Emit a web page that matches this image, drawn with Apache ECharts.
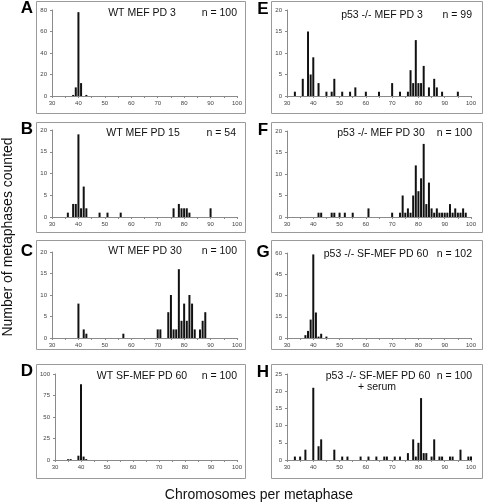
<!DOCTYPE html>
<html>
<head>
<meta charset="utf-8">
<script src="https://cdn.jsdelivr.net/npm/echarts@6/dist/echarts.min.js"></script>
<style>
html,body{margin:0;padding:0;background:#fff;}
#chart{width:483px;height:503px;}
</style>
</head>
<body>
<div id="chart"></div>
<script>
// Chromosome counts (x) and number of metaphases (y) per panel
const chromA = [38, 39, 40, 41, 43];
const countA = [1, 8, 78, 12, 1];

const chromB = [36, 38, 39, 40, 41, 42, 43, 48, 51, 56, 76, 78, 79, 80, 81, 82, 90];
const countB = [1, 3, 3, 19, 2, 7, 2, 1, 1, 1, 2, 3, 2, 2, 2, 1, 2];

const chromC = [40, 42, 43, 57, 70, 71, 74, 75, 76, 77, 78, 79, 80, 81, 82, 83, 84, 86, 87, 88];
const countC = [8, 2, 1, 1, 2, 2, 6, 10, 2, 2, 16, 4, 8, 4, 10, 8, 2, 2, 4, 6];

const chromD = [35, 36, 39, 40, 41, 42];
const countD = [1, 1, 5, 88, 4, 1];

const chromE = [33, 36, 38, 39, 40, 42, 45, 47, 48, 51, 54, 56, 60, 65, 70, 73, 76, 77, 78, 79, 80, 81, 82, 84, 86, 87, 89, 95];
const countE = [1, 4, 15, 5, 9, 3, 1, 1, 4, 1, 1, 2, 1, 1, 3, 1, 1, 6, 3, 13, 3, 3, 7, 2, 4, 2, 1, 1];

const chromF = [42, 43, 47, 48, 50, 52, 55, 61, 70, 73, 74, 75, 76, 77, 78, 79, 80, 81, 82, 83, 84, 85, 86, 87, 88, 89, 90, 91, 92, 93, 94, 95, 96, 97, 98];
const countF = [1, 1, 1, 1, 1, 1, 1, 2, 1, 1, 5, 1, 2, 1, 5, 12, 6, 9, 17, 3, 8, 2, 1, 2, 1, 1, 1, 1, 3, 1, 2, 1, 1, 2, 1];

const chromG = [37, 38, 39, 40, 41, 42, 43, 45];
const countG = [2, 5, 13, 59, 18, 1, 3, 1];

const chromH = [33, 35, 37, 40, 42, 43, 48, 51, 53, 58, 61, 64, 67, 68, 71, 73, 76, 78, 79, 80, 81, 82, 83, 85, 86, 88, 89, 92, 93, 96, 99, 100];
const countH = [1, 1, 3, 21, 4, 6, 3, 1, 1, 1, 1, 1, 1, 1, 1, 1, 2, 6, 1, 5, 18, 2, 2, 1, 6, 1, 1, 1, 1, 3, 1, 1];

const panelLetters = ['A', 'B', 'C', 'D', 'E', 'F', 'G', 'H'];
const panelTitles = ['WT MEF PD 3', 'WT MEF PD 15', 'WT MEF PD 30', 'WT SF-MEF PD 60',
  'p53 -/- MEF PD 3', 'p53 -/- MEF PD 30', 'p53 -/- SF-MEF PD 60', 'p53 -/- SF-MEF PD 60'];
const panelN = ['n = 100', 'n = 54', 'n = 100', 'n = 100', 'n = 99', 'n = 100', 'n = 102', 'n = 100'];
const yMax = [80, 20, 20, 100, 20, 20, 60, 25];
const yStep = [20, 5, 5, 25, 5, 5, 15, 5];
const xMin = 30, xMax = 100, xStep = 10;
const subNote = '+ serum';
const yAxisTitle = 'Number of metaphases counted';
const xAxisTitle = 'Chromosomes per metaphase';

const chroms = [chromA, chromB, chromC, chromD, chromE, chromF, chromG, chromH];
const counts = [countA, countB, countC, countD, countE, countF, countG, countH];

// Layout (pixels)
const grids = [
  {left: 52, top: 10, width: 185, height: 86},
  {left: 52, top: 130, width: 185, height: 87},
  {left: 52, top: 252, width: 185, height: 86},
  {left: 55, top: 374, width: 182, height: 86},
  {left: 287, top: 10, width: 184, height: 86},
  {left: 287, top: 131, width: 184, height: 86},
  {left: 287, top: 253, width: 184, height: 85},
  {left: 287, top: 374, width: 184, height: 86}
];
const boxes = [
  {x: 36, y: 1, w: 209, h: 112},
  {x: 36, y: 122, w: 209, h: 110},
  {x: 36, y: 240, w: 209, h: 109},
  {x: 36, y: 364, w: 209, h: 114},
  {x: 271, y: 1, w: 211, h: 112},
  {x: 271, y: 122, w: 211, h: 110},
  {x: 271, y: 240, w: 211, h: 109},
  {x: 271, y: 364, w: 211, h: 114}
];
const letterPos = [[27, 8], [27, 129], [27, 251], [27, 371], [263, 9], [263, 130], [263, 252], [263, 372]];
const titlePos = [[142, 13], [143, 133], [145, 251], [142, 376], [382, 15], [381, 133], [376, 254], [378, 376]];
const nRight = [237, 236, 237, 237, 472, 472, 472, 472];

const FONT = '"Liberation Sans", Arial, sans-serif';
const axisGray = '#8a8a8a';

const option = {
  animation: false,
  backgroundColor: '#fff',
  grid: grids.map(g => Object.assign({containLabel: false}, g)),
  xAxis: grids.map((g, i) => ({
    type: 'value', gridIndex: i, min: xMin, max: xMax, interval: xStep,
    axisLine: {show: true, lineStyle: {color: axisGray, width: 1}},
    axisTick: {show: true, length: 2, lineStyle: {color: axisGray}},
    minorTick: {show: true, splitNumber: 2, length: 2, lineStyle: {color: axisGray}},
    splitLine: {show: false},
    axisLabel: {fontSize: 6, color: '#444', margin: 4, fontFamily: FONT}
  })),
  yAxis: grids.map((g, i) => ({
    type: 'value', gridIndex: i, min: 0, max: yMax[i], interval: yStep[i],
    axisLine: {show: true, lineStyle: {color: axisGray, width: 1}},
    axisTick: {show: true, length: 2, lineStyle: {color: axisGray}},
    splitLine: {show: false},
    axisLabel: {fontSize: 6, color: '#444', margin: 5, fontFamily: FONT}
  })),
  series: chroms.map((c, i) => ({
    type: 'bar', xAxisIndex: i, yAxisIndex: i,
    barWidth: 2,
    itemStyle: {color: '#111'},
    data: c.map((x, j) => [x, counts[i][j]])
  })),
  graphic: []
};

boxes.forEach(b => {
  option.graphic.push({
    type: 'rect', silent: true, z: -1,
    shape: {x: b.x + 0.5, y: b.y + 0.5, width: b.w, height: b.h},
    style: {fill: 'none', stroke: '#9a9a9a', lineWidth: 1}
  });
});
panelLetters.forEach((L, i) => {
  option.graphic.push({
    type: 'text', x: letterPos[i][0], y: letterPos[i][1],
    style: {text: L, font: 'bold 17px ' + FONT, fill: '#000', align: 'center', verticalAlign: 'middle'}
  });
  option.graphic.push({
    type: 'text', x: titlePos[i][0], y: titlePos[i][1],
    style: {text: panelTitles[i], font: '10.5px ' + FONT, fill: '#111', align: 'center', verticalAlign: 'middle'}
  });
  option.graphic.push({
    type: 'text', x: nRight[i], y: titlePos[i][1],
    style: {text: panelN[i], font: '10.5px ' + FONT, fill: '#111', align: 'right', verticalAlign: 'middle'}
  });
});
option.graphic.push({
  type: 'text', x: 377, y: 387,
  style: {text: subNote, font: '10.5px ' + FONT, fill: '#111', align: 'center', verticalAlign: 'middle'}
});
option.graphic.push({
  type: 'text', x: 8, y: 237, rotation: Math.PI / 2,
  style: {text: yAxisTitle, font: '14px ' + FONT, fill: '#111', align: 'center', verticalAlign: 'middle'}
});
option.graphic.push({
  type: 'text', x: 259, y: 495,
  style: {text: xAxisTitle, font: '14px ' + FONT, fill: '#111', align: 'center', verticalAlign: 'middle'}
});

const chart = echarts.init(document.getElementById('chart'), null, {renderer: 'canvas'});
chart.setOption(option);
</script>
</body>
</html>
